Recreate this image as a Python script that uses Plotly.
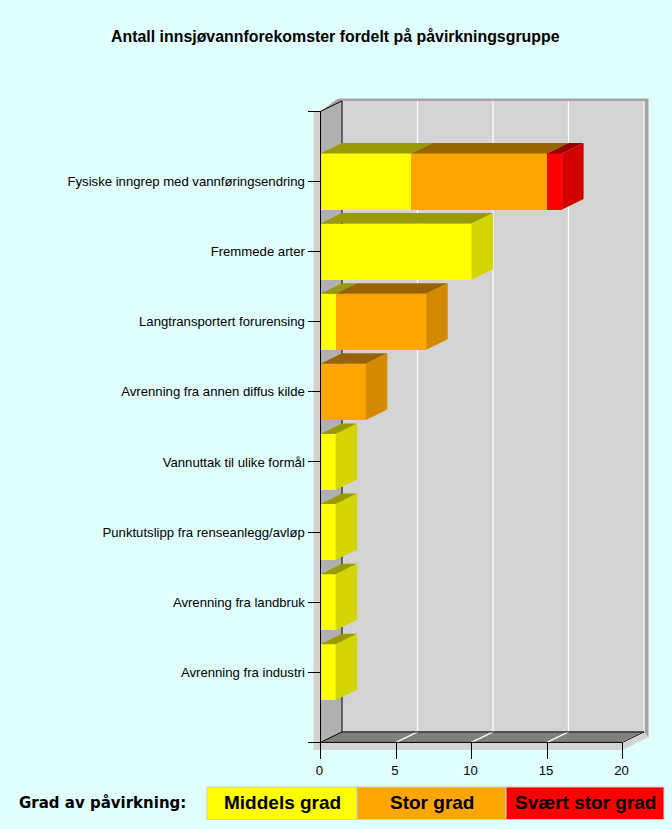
import plotly.graph_objects as go

title_text = "Antall innsjøvannforekomster fordelt på påvirkningsgruppe"
categories = ["Fysiske inngrep med vannføringsendring", "Fremmede arter",
              "Langtransportert forurensing", "Avrenning fra annen diffus kilde",
              "Vannuttak til ulike formål", "Punktutslipp fra renseanlegg/avløp",
              "Avrenning fra landbruk", "Avrenning fra industri"]
middels = [6, 10, 1, 0, 1, 1, 1, 1]
stor = [9, 0, 6, 3, 0, 0, 0, 0]
svaert = [1, 0, 0, 0, 0, 0, 0, 0]
legend_title = "Grad av påvirkning:"
series_names = ["Middels grad", "Stor grad", "Svært stor grad"]
x_ticks = [0, 5, 10, 15, 20]

W, H = 672, 829
X0, XS = 320.5, 15.1      # pixel of x=0, px per unit
Y0, YS = 742.4, 70.11     # pixel of y=0, px per unit
DX, DY = 21.5 / XS, 10.5 / YS   # 3D depth in axis units
BAR = 0.8
XMAX, YMAX = 20, 9

def px_x(p): return (p - X0) / XS
def px_y(p): return (Y0 - p) / YS

colors = ["#ffff00", "#ffa500", "#ff0000"]
tops = ["#999900", "#996300", "#990000"]
sides = ["#d4d400", "#d48900", "#d40000"]
n = len(categories)
ypos = [n - i for i in range(n)]

fig = go.Figure()
series = [middels, stor, svaert]

def poly(pts, fill, layer="below"):
    path = "M " + " L ".join(f"{x},{y}" for x, y in pts) + " Z"
    return dict(type="path", path=path, fillcolor=fill, line=dict(width=0), layer=layer, xref="x", yref="y")

def seg(x0, y0, x1, y1, color="#000000", width=1):
    return dict(type="line", x0=x0, y0=y0, x1=x1, y1=y1, xref="x", yref="y", layer="below",
                line=dict(color=color, width=width))

shapes = [
    poly([(0, YMAX), (px_x(338), px_y(98.5)), (px_x(648.5), px_y(98.5)), (px_x(648.5), px_y(738)),
          (XMAX + DX, DY), (DX, YMAX + DY)], "#a3a3a3"),
    poly([(px_x(313.5), px_y(112)), (0, YMAX), (0, 0), (XMAX, 0), (XMAX + DX, DY), (px_x(648.5), px_y(737)),
          (XMAX, px_y(750)), (px_x(313.5), px_y(750))], "#d3d3d3"),
    poly([(DX, DY), (XMAX + DX, DY), (XMAX + DX, YMAX + DY), (DX, YMAX + DY)], "#d3d3d3"),
    poly([(0, 0), (DX, DY), (DX, YMAX + DY), (0, YMAX)], "#b0b0b0"),
    poly([(0, 0), (XMAX, 0), (XMAX + DX, DY), (DX, DY)], "#808080"),
]
for t in x_ticks[1:]:
    shapes.append(seg(t + DX, DY, t + DX, YMAX + DY, "#ffffff", 1.2))
    shapes.append(seg(t, 0, t + DX, DY, "#ffffff", 1.2))
shapes += [
    seg(0, 0, 0, YMAX), seg(DX, DY, DX, YMAX + DY), seg(0, YMAX, DX, YMAX + DY),
    seg(0, 0, XMAX, 0), seg(DX, DY, XMAX + DX, DY), seg(0, 0, DX, DY), seg(XMAX, 0, XMAX + DX, DY),
]

for s, vals in enumerate(series):
    fig.add_trace(go.Bar(y=ypos, x=vals, orientation="h", width=BAR, name=series_names[s],
                         marker=dict(color=colors[s], line=dict(width=0)), showlegend=False,
                         hoverinfo="skip"))

# 3D faces derived from the same values
for i, y in enumerate(ypos):
    left = 0
    last = None
    for s, vals in enumerate(series):
        v = vals[i]
        if v == 0:
            continue
        right = left + v
        yt = y + BAR / 2
        fig.add_trace(go.Scatter(x=[left, right, right + DX, left + DX, left],
                                 y=[yt, yt, yt + DY, yt + DY, yt], fill="toself", mode="none",
                                 fillcolor=tops[s], showlegend=False, hoverinfo="skip"))
        left = right
        last = s
    yb = y - BAR / 2
    yt = y + BAR / 2
    fig.add_trace(go.Scatter(x=[left, left + DX, left + DX, left, left],
                             y=[yb, yb + DY, yt + DY, yt, yb], fill="toself", mode="none",
                             fillcolor=sides[last], showlegend=False, hoverinfo="skip"))

TICK_FONT = dict(family="Liberation Sans, Arial, sans-serif", size=13.15, color="#000000")
ann = [
    dict(text=f"<b>{title_text}</b>", x=335.5 / W, y=1 - 36 / H, xref="paper", yref="paper", showarrow=False,
         xanchor="center", yanchor="middle", font=dict(family="Liberation Sans, Arial, sans-serif", size=15.9, color="#000000")),
    dict(text=f"<b>{legend_title}</b>", x=17 / W, y=1 - 803 / H, xref="paper", yref="paper", showarrow=False,
         xanchor="left", yanchor="middle", font=dict(family="DejaVu Sans, sans-serif", size=15, color="#000000")),
]
box_px = [(207, 357), (357, 506), (506, 664)]
for name, col, (a, b) in zip(series_names, colors, box_px):
    shapes.append(dict(type="rect", xref="paper", yref="paper", x0=a / W, x1=b / W, y0=1 - 819.5 / H, y1=1 - 787 / H,
                       fillcolor=col, line=dict(color="#cccccc", width=1), layer="above"))
    ann.append(dict(text=f"<b>{name}</b>", x=(a + b) / 2 / W, y=1 - 802 / H, xref="paper", yref="paper", showarrow=False,
                    xanchor="center", yanchor="middle", font=dict(family="Liberation Sans, Arial, sans-serif", size=19, color="#000000")))

fig.update_layout(
    width=W, height=H, margin=dict(l=0, r=0, t=0, b=0), autosize=False,
    paper_bgcolor="#e0ffff", plot_bgcolor="rgba(0,0,0,0)",
    barmode="stack", shapes=shapes, annotations=ann,
    xaxis=dict(domain=[0, 1], range=[px_x(0), px_x(W)], tickmode="array", tickvals=x_ticks,
               ticktext=[str(t) for t in x_ticks], showgrid=False, zeroline=False, showline=False,
               ticks="outside", ticklen=16, tickwidth=1, tickcolor="#000000", tickfont=TICK_FONT,
               ticklabelshift=-1, anchor="free", position=1 - Y0 / H, side="bottom", fixedrange=True),
    yaxis=dict(domain=[0, 1], range=[px_y(H), px_y(0)], tickmode="array",
               tickvals=[0] + ypos + [YMAX], ticktext=[""] + categories + [""],
               showgrid=False, zeroline=False, showline=False,
               ticks="outside", ticklen=13, tickwidth=1, tickcolor="#000000", tickfont=TICK_FONT,
               anchor="free", position=X0 / W, side="left", fixedrange=True),
)
fig.write_html("out.html", config=dict(displayModeBar=False),
               post_script="document.body.style.margin='0';document.body.style.background='#e0ffff';document.documentElement.style.overflow='hidden';")
